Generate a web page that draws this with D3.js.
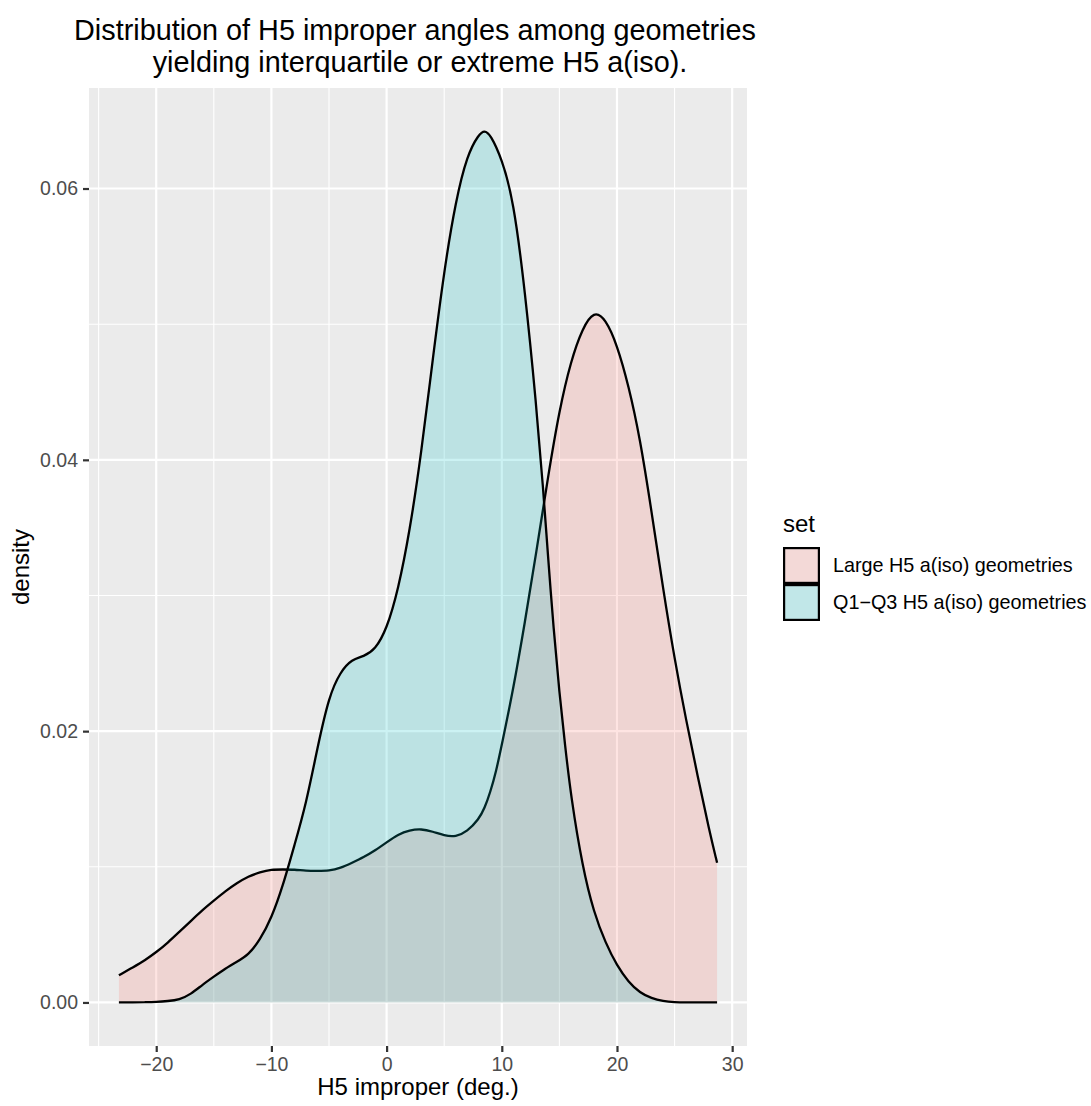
<!DOCTYPE html>
<html>
<head>
<meta charset="utf-8">
<script src="https://cdn.jsdelivr.net/npm/d3@7"></script>
<style>
  html, body { margin: 0; padding: 0; background: #ffffff; }
  svg { display: block; }
  text { font-family: "Liberation Sans", Arial, Helvetica, sans-serif; }
</style>
</head>
<body>
<script>
// ---- data ----
const seriesNames = ["Large H5 a(iso) geometries", "Q1\u2212Q3 H5 a(iso) geometries"];
const seriesColors = ["#F8766D", "#00BFC4"];

const largeAngle = [-23.24, -22, -21, -20, -19, -18, -17, -16, -15, -14, -13, -12, -11, -10, -9, -8, -7, -6, -5, -4, -3, -2, -1,
  0, 1, 2, 3, 4, 5, 6, 7, 8, 8.5, 9, 9.5, 10, 11, 12, 13, 14, 15, 16, 17, 18, 19, 20, 21, 22, 23, 24, 25, 26, 27, 28, 28.69];
const largeDensity = [0.0020, 0.0026, 0.0031, 0.0037, 0.0044, 0.0052, 0.0060, 0.0068, 0.0075, 0.0082, 0.0088, 0.0093, 0.0096,
  0.0098, 0.0098, 0.0098, 0.0097, 0.0097, 0.0097, 0.0099, 0.0103, 0.0107, 0.0112,
  0.0118, 0.0124, 0.0127, 0.0128, 0.0126, 0.0123, 0.0122, 0.0126, 0.0135, 0.0143, 0.0155, 0.0170, 0.0190, 0.0231, 0.0280,
  0.0332, 0.0387, 0.0437, 0.0473, 0.0497, 0.0510, 0.0504, 0.0485, 0.0455, 0.0416, 0.0362, 0.0305, 0.0253, 0.0208, 0.0167,
  0.0127, 0.0103];

const iqrAngle = [-23.24, -22, -21, -20, -19, -18, -17, -16, -15, -14, -13, -12, -11, -10, -9, -8, -7, -6, -5, -4, -3, -2, -1,
  0, 1, 2, 3, 4, 5, 6, 7, 8, 8.5, 9, 10, 11, 12, 13, 13.6, 14, 14.5, 15, 15.5, 16, 17, 18, 19, 20, 21, 22, 23, 24, 25, 26,
  27, 28.69];
const iqrDensity = [0.0, 0.0, 0.00002, 0.00004, 0.0001, 0.0002, 0.0006, 0.0013, 0.0019, 0.0025, 0.0030, 0.0035, 0.0046,
  0.0062, 0.0086, 0.0116, 0.0146, 0.0188, 0.0226, 0.0244, 0.0253, 0.0255, 0.0260,
  0.0275, 0.0304, 0.0347, 0.0404, 0.0474, 0.0540, 0.0591, 0.0625, 0.0640, 0.0643, 0.0640, 0.0622, 0.0592, 0.0526, 0.0440,
  0.0378, 0.0330, 0.0275, 0.0228, 0.0189, 0.0152, 0.0100, 0.0066, 0.0044, 0.0027, 0.0015, 0.0007, 0.0003, 0.0001, 0.00002,
  0.0, 0.0, 0.0];

const xMajorTicks = [-20, -10, 0, 10, 20, 30];
const xMinorTicks = [-25, -15, -5, 5, 15, 25];
const yMajorTicks = [0, 0.02, 0.04, 0.06];
const yMinorTicks = [0.01, 0.03, 0.05];

const titleLines = ["Distribution of H5 improper angles among geometries",
                    "yielding interquartile or extreme H5 a(iso)."];
const xTitle = "H5 improper (deg.)";
const yTitle = "density";
const legendTitle = "set";

// ---- layout ----
const W = 1091, H = 1106;
const P = { left: 89, right: 747, top: 88, bottom: 1046 };

const series = [
  { name: seriesNames[0], color: seriesColors[0], pts: largeAngle.map((a, i) => ({ x: a, y: largeDensity[i] })) },
  { name: seriesNames[1], color: seriesColors[1], pts: iqrAngle.map((a, i) => ({ x: a, y: iqrDensity[i] })) }
];

const allX = largeAngle.concat(iqrAngle);
const [xmin, xmax] = d3.extent(allX);
const xr = xmax - xmin;
const ymax = 0.0642;

const x = d3.scaleLinear().domain([xmin - 0.05 * xr, xmax + 0.05 * xr]).range([P.left, P.right]);
const y = d3.scaleLinear().domain([-0.05 * ymax, ymax * 1.05]).range([P.bottom, P.top]);

const svg = d3.select("body").append("svg").attr("width", W).attr("height", H);

// panel background
svg.append("rect").attr("x", P.left).attr("y", P.top)
  .attr("width", P.right - P.left).attr("height", P.bottom - P.top).attr("fill", "#EBEBEB");

// grid
const grid = svg.append("g");
grid.selectAll(".xminor").data(xMinorTicks).join("line")
  .attr("x1", d => x(d)).attr("x2", d => x(d)).attr("y1", P.top).attr("y2", P.bottom)
  .attr("stroke", "#fff").attr("stroke-width", 1.1);
grid.selectAll(".yminor").data(yMinorTicks).join("line")
  .attr("y1", d => y(d)).attr("y2", d => y(d)).attr("x1", P.left).attr("x2", P.right)
  .attr("stroke", "#fff").attr("stroke-width", 1.1);
grid.selectAll(".xmajor").data(xMajorTicks).join("line")
  .attr("x1", d => x(d)).attr("x2", d => x(d)).attr("y1", P.top).attr("y2", P.bottom)
  .attr("stroke", "#fff").attr("stroke-width", 2.2);
grid.selectAll(".ymajor").data(yMajorTicks).join("line")
  .attr("y1", d => y(d)).attr("y2", d => y(d)).attr("x1", P.left).attr("x2", P.right)
  .attr("stroke", "#fff").attr("stroke-width", 2.2);

// densities
const curve = d3.curveBasis;
const area = d3.area().x(d => x(d.x)).y0(y(0)).y1(d => y(d.y)).curve(curve);
const line = d3.line().x(d => x(d.x)).y(d => y(d.y)).curve(curve);
series.forEach(s => {
  svg.append("path").datum(s.pts).attr("d", area).attr("fill", s.color).attr("fill-opacity", 0.2);
  svg.append("path").datum(s.pts).attr("d", line).attr("fill", "none")
    .attr("stroke", "#000").attr("stroke-width", 2.3).attr("stroke-linejoin", "round");
});

// axes
const xAxis = svg.append("g").attr("transform", `translate(0,${P.bottom})`)
  .call(d3.axisBottom(x).tickValues(xMajorTicks).tickSize(6).tickPadding(5).tickFormat(d3.format("d")));
const yAxis = svg.append("g").attr("transform", `translate(${P.left},0)`)
  .call(d3.axisLeft(y).tickValues(yMajorTicks).tickSize(6).tickPadding(5).tickFormat(d3.format(".2f")));
[xAxis, yAxis].forEach(g => {
  g.select(".domain").remove();
  g.selectAll(".tick line").attr("stroke", "#333333").attr("stroke-width", 2.2);
  g.selectAll(".tick text").attr("fill", "#4D4D4D").style("font-size", "19.5px")
    .style("font-family", "'Liberation Sans', Arial, sans-serif");
});

// titles
const cx = (P.left + P.right) / 2;
svg.append("text").attr("x", cx - 3).attr("y", 40).attr("text-anchor", "middle")
  .style("font-size", "28.8px").attr("fill", "#000").text(titleLines[0]);
svg.append("text").attr("x", cx + 2).attr("y", 72).attr("text-anchor", "middle")
  .style("font-size", "28.8px").attr("fill", "#000").text(titleLines[1]);
svg.append("text").attr("x", cx).attr("y", 1095).attr("text-anchor", "middle")
  .style("font-size", "24px").attr("fill", "#000").text(xTitle);
svg.append("text").attr("transform", `translate(29,${(P.top + P.bottom) / 2}) rotate(-90)`)
  .attr("text-anchor", "middle").style("font-size", "24px").attr("fill", "#000").text(yTitle);

// legend
const lg = svg.append("g");
lg.append("text").attr("x", 783).attr("y", 532).style("font-size", "24px").attr("fill", "#000").text(legendTitle);
series.forEach((s, i) => {
  const ky = 547 + i * 37;
  lg.append("rect").attr("x", 783).attr("y", ky).attr("width", 37).attr("height", 37).attr("fill", "#F2F2F2");
  lg.append("rect").attr("x", 784.1).attr("y", ky + 1.1).attr("width", 34.8).attr("height", 34.8)
    .attr("fill", s.color).attr("fill-opacity", 0.2).attr("stroke", "#000").attr("stroke-width", 2.2);
  lg.append("text").attr("x", 833).attr("y", ky + 18.5).attr("dy", "0.35em")
    .style("font-size", "19.8px").attr("fill", "#000").text(s.name);
});
</script>
</body>
</html>
